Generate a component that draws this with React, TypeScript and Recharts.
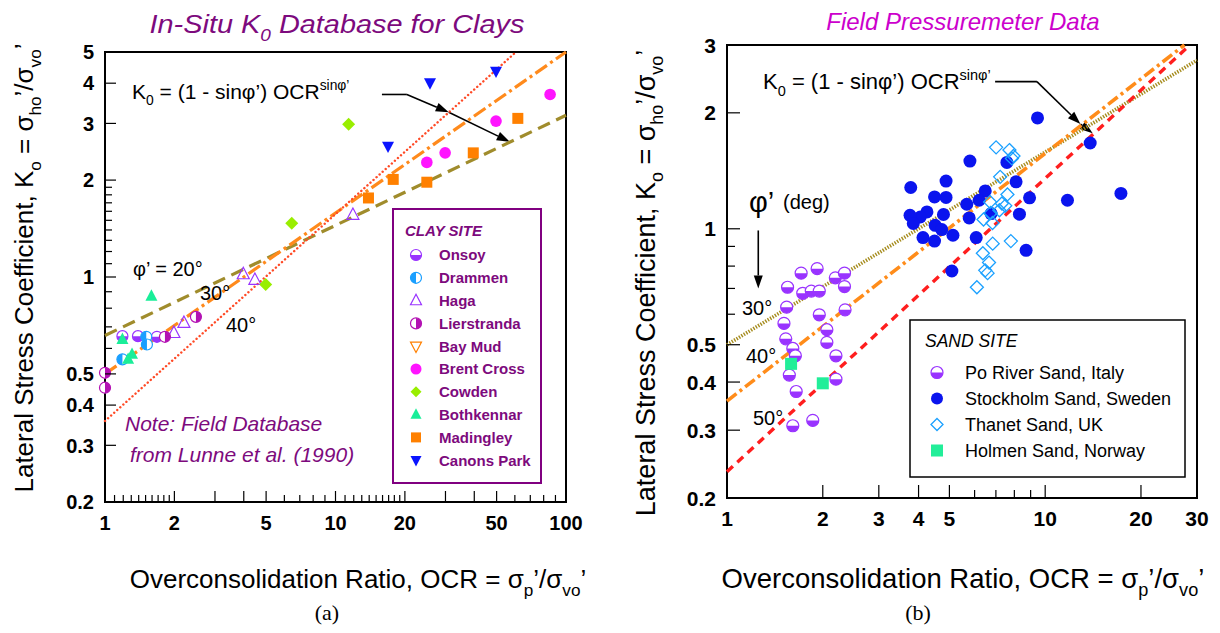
import React from "react";
import { ScatterChart, Scatter, XAxis, YAxis, ReferenceArea, ReferenceLine } from "recharts";

const FONT = "'Liberation Sans', Arial, Helvetica, sans-serif";
const PURPLE = "#7d0a7d";

// ---------- panel (a): clays ----------
const clayXTicks = [1, 1.1, 1.2, 1.3, 1.4, 1.5, 1.6, 1.7, 1.8, 1.9, 2, 3, 4, 5, 6, 7, 8, 9, 10, 11, 12, 13, 14, 15, 16, 17, 18, 19, 20, 30, 40, 50, 60, 70, 80, 90, 100];
const clayXMajor = [1, 2, 3, 4, 5, 10, 20, 30, 40, 50, 100];
const clayXLabels = [1, 2, 5, 10, 20, 50, 100];
const clayYTicks = [0.2, 0.3, 0.4, 0.5, 0.6, 0.7, 0.8, 0.9, 1, 1.1, 1.2, 1.3, 1.4, 1.5, 1.6, 1.7, 1.8, 1.9, 2, 3, 4, 5];
const clayYLabels = [0.2, 0.3, 0.4, 0.5, 1, 2, 3, 4, 5];

const onsoy = [{ x: 1.19, y: 0.655 }, { x: 1.39, y: 0.655 }, { x: 1.68, y: 0.652 }];
const drammen = [{ x: 1.51, y: 0.652 }, { x: 1.52, y: 0.617 }, { x: 1.19, y: 0.555 }];
const haga = [{ x: 11.9, y: 1.56 }, { x: 3.98, y: 1.02 }, { x: 4.47, y: 0.98 }, { x: 2.2, y: 0.72 }, { x: 1.99, y: 0.67 }];
const lierstranda = [{ x: 2.48, y: 0.752 }, { x: 1.82, y: 0.652 }, { x: 1, y: 0.504 }, { x: 1, y: 0.453 }];
const bayMud: { x: number; y: number }[] = [];
const brentCross = [{ x: 85.3, y: 3.69 }, { x: 49.7, y: 3.05 }, { x: 29.9, y: 2.43 }, { x: 24.9, y: 2.27 }];
const cowden = [{ x: 11.4, y: 2.98 }, { x: 6.46, y: 1.47 }, { x: 4.98, y: 0.948 }];
const bothkennar = [{ x: 1.59, y: 0.872 }, { x: 1.19, y: 0.64 }, { x: 1.31, y: 0.575 }, { x: 1.26, y: 0.555 }];
const madingley = [{ x: 61.8, y: 3.11 }, { x: 39.6, y: 2.43 }, { x: 24.9, y: 1.97 }, { x: 17.8, y: 2.01 }, { x: 13.9, y: 1.76 }];
const canonsPark = [{ x: 49.7, y: 4.36 }, { x: 25.7, y: 4.01 }, { x: 16.9, y: 2.55 }];

// K0 = (1 - sin phi') OCR^sin phi' end points
const clayPhi20 = [{ x: 1, y: 0.658 }, { x: 100, y: 3.18 }];
const clayPhi30 = [{ x: 1, y: 0.5 }, { x: 100, y: 5 }];
const clayPhi40 = [{ x: 1, y: 0.357 }, { x: 60.7, y: 5 }];

// ---------- panel (b): sands ----------
const sandXTicks = [1, 2, 3, 4, 5, 6, 7, 8, 9, 10, 20, 30];
const sandXMajor = [1, 2, 3, 4, 5, 10, 20, 30];
const sandXLabels = [1, 2, 3, 4, 5, 10, 20, 30];
const sandYTicks = [0.2, 0.3, 0.4, 0.5, 0.6, 0.7, 0.8, 0.9, 1, 2, 3];
const sandYLabels = [0.2, 0.3, 0.4, 0.5, 1, 2, 3];

const poRiver = [
  { x: 1.92, y: 0.788 }, { x: 1.71, y: 0.767 }, { x: 1.55, y: 0.705 }, { x: 1.73, y: 0.68 },
  { x: 1.84, y: 0.689 }, { x: 1.95, y: 0.689 }, { x: 2.19, y: 0.746 }, { x: 2.34, y: 0.767 },
  { x: 2.34, y: 0.708 }, { x: 1.54, y: 0.626 }, { x: 1.95, y: 0.598 }, { x: 2.35, y: 0.616 },
  { x: 1.51, y: 0.568 }, { x: 2.06, y: 0.547 }, { x: 1.53, y: 0.518 }, { x: 1.61, y: 0.489 },
  { x: 1.64, y: 0.468 }, { x: 2.06, y: 0.507 }, { x: 2.2, y: 0.468 }, { x: 1.57, y: 0.417 },
  { x: 2.2, y: 0.407 }, { x: 1.65, y: 0.378 }, { x: 1.86, y: 0.318 }, { x: 1.61, y: 0.308 },
];
const stockholm = [
  { x: 9.46, y: 1.94 }, { x: 13.85, y: 1.67 }, { x: 17.3, y: 1.235 }, { x: 11.75, y: 1.186 },
  { x: 8.93, y: 1.203 }, { x: 8.3, y: 1.091 }, { x: 8.71, y: 0.879 }, { x: 8.1, y: 1.324 },
  { x: 7.58, y: 1.487 }, { x: 6.48, y: 1.254 }, { x: 6.2, y: 1.186 }, { x: 5.67, y: 1.158 },
  { x: 5.77, y: 1.067 }, { x: 6.07, y: 0.949 }, { x: 5.8, y: 1.499 }, { x: 4.88, y: 1.33 },
  { x: 4.88, y: 1.206 }, { x: 4.49, y: 1.21 }, { x: 3.78, y: 1.28 }, { x: 4.25, y: 1.106 },
  { x: 4.05, y: 1.073 }, { x: 3.76, y: 1.084 }, { x: 3.85, y: 1.032 }, { x: 4.51, y: 1.021 },
  { x: 4.73, y: 0.995 }, { x: 4.79, y: 1.089 }, { x: 4.13, y: 0.949 }, { x: 4.49, y: 0.929 },
  { x: 5.13, y: 0.962 }, { x: 5.09, y: 0.777 }, { x: 6.76, y: 1.095 },
];
const thanet = [
  { x: 7.01, y: 1.627 }, { x: 7.72, y: 1.601 }, { x: 7.95, y: 1.545 }, { x: 7.86, y: 1.523 },
  { x: 7.22, y: 1.364 }, { x: 7.61, y: 1.228 }, { x: 6.71, y: 1.174 }, { x: 7.31, y: 1.163 },
  { x: 7.49, y: 1.147 }, { x: 7.18, y: 1.117 }, { x: 6.74, y: 1.099 }, { x: 6.4, y: 1.057 },
  { x: 6.83, y: 1.035 }, { x: 6.84, y: 0.915 }, { x: 7.8, y: 0.929 }, { x: 6.37, y: 0.864 },
  { x: 6.66, y: 0.817 }, { x: 6.48, y: 0.78 }, { x: 6.59, y: 0.767 }, { x: 6.1, y: 0.705 },
];
const holmen = [{ x: 1.59, y: 0.446 }, { x: 2.0, y: 0.397 }];

const sandPhi30 = [{ x: 1, y: 0.5 }, { x: 30, y: 2.74 }];
const sandPhi40 = [{ x: 1, y: 0.357 }, { x: 27.4, y: 3 }];
const sandPhi50 = [{ x: 1, y: 0.234 }, { x: 28.5, y: 3 }];

// ---------- drawing helpers ----------
type Kind = "halfBottom" | "halfLeft" | "halfRight" | "triUp" | "triDown" | "openTriUp" | "openTriDown" | "circle" | "diamond" | "openDiamond" | "square";

function Marker({ kind, color, cx, cy, r }: { kind: Kind; color: string; cx: number; cy: number; r: number }) {
  switch (kind) {
    case "halfBottom":
    case "halfLeft":
    case "halfRight": {
      const d =
        kind === "halfBottom"
          ? `M${cx - r},${cy} A${r},${r} 0 0 0 ${cx + r},${cy} Z`
          : kind === "halfLeft"
          ? `M${cx},${cy - r} A${r},${r} 0 0 0 ${cx},${cy + r} Z`
          : `M${cx},${cy - r} A${r},${r} 0 0 1 ${cx},${cy + r} Z`;
      return (
        <g>
          <circle cx={cx} cy={cy} r={r} fill="#fff" stroke={color} strokeWidth={1.2} />
          <path d={d} fill={color} />
        </g>
      );
    }
    case "triUp":
    case "openTriUp": {
      const pts = `${cx},${cy - r * 1.15} ${cx - r},${cy + r * 0.75} ${cx + r},${cy + r * 0.75}`;
      return kind === "triUp" ? <polygon points={pts} fill={color} /> : <polygon points={pts} fill="none" stroke={color} strokeWidth={1.2} />;
    }
    case "triDown":
    case "openTriDown": {
      const pts = `${cx},${cy + r * 1.15} ${cx - r},${cy - r * 0.75} ${cx + r},${cy - r * 0.75}`;
      return kind === "triDown" ? <polygon points={pts} fill={color} /> : <polygon points={pts} fill="none" stroke={color} strokeWidth={1.2} />;
    }
    case "circle":
      return <circle cx={cx} cy={cy} r={r} fill={color} />;
    case "diamond":
    case "openDiamond": {
      const pts = `${cx},${cy - r} ${cx + r},${cy} ${cx},${cy + r} ${cx - r},${cy}`;
      return kind === "diamond" ? <polygon points={pts} fill={color} /> : <polygon points={pts} fill="none" stroke={color} strokeWidth={1.3} />;
    }
    case "square":
      return <rect x={cx - r} y={cy - r} width={2 * r} height={2 * r} fill={color} />;
  }
}

const shapeOf = (kind: Kind, color: string, r: number) => (p: any) => <Marker kind={kind} color={color} cx={p.cx} cy={p.cy} r={r} />;
const noShape = () => <g />;

function Rich({ parts, fs }: { parts: Array<[string, "n" | "sub" | "sup"]>; fs: number }) {
  let shift = 0;
  return (
    <>
      {parts.map(([t, k], i) => {
        const target = k === "sub" ? fs * 0.3 : k === "sup" ? -fs * 0.42 : 0;
        const dy = target - shift;
        shift = target;
        return (
          <tspan key={i} dy={dy} fontSize={k === "n" ? fs : fs * 0.66}>
            {t}
          </tspan>
        );
      })}
    </>
  );
}

const xTick = (major: number[], labels: number[], fs: number, long: number, short: number) => (p: any) => {
  const v = p.payload.value;
  return (
    <g>
      <line x1={p.x} y1={p.y} x2={p.x} y2={p.y - (major.includes(v) ? long : short)} stroke="#000" strokeWidth={1.2} />
      {labels.includes(v) && (
        <text x={p.x} y={p.y + 28} textAnchor="middle" fontSize={fs} fontFamily={FONT} fontWeight="bold" fill="#000">
          {v}
        </text>
      )}
    </g>
  );
};

const yTick = (major: number[], labels: number[], fs: number, long: number, short: number) => (p: any) => {
  const v = p.payload.value;
  return (
    <g>
      <line x1={p.x} y1={p.y} x2={p.x + (major.includes(v) ? long : short)} y2={p.y} stroke="#000" strokeWidth={1.2} />
      {labels.includes(v) && (
        <text x={p.x - 11} y={p.y} dy="0.36em" textAnchor="end" fontSize={fs} fontFamily={FONT} fontWeight="bold" fill="#000">
          {v}
        </text>
      )}
    </g>
  );
};

const arrow = (head: boolean) => (p: any) => {
  const { x1, y1, x2, y2 } = p;
  const a = Math.atan2(y2 - y1, x2 - x1);
  const L = 13;
  const W = 4.5;
  const bx = x2 - L * Math.cos(a);
  const by = y2 - L * Math.sin(a);
  const px = -Math.sin(a) * W;
  const py = Math.cos(a) * W;
  return (
    <g>
      <line x1={x1} y1={y1} x2={head ? bx : x2} y2={head ? by : y2} stroke="#000" strokeWidth={1.6} />
      {head && <polygon points={`${x2},${y2} ${bx + px},${by + py} ${bx - px},${by - py}`} fill="#000" />}
    </g>
  );
};

const clayLegend: Array<[string, Kind, string]> = [
  ["Onsoy", "halfBottom", "#9933ff"],
  ["Drammen", "halfLeft", "#1a9fff"],
  ["Haga", "openTriUp", "#9933ff"],
  ["Lierstranda", "halfRight", "#b312b3"],
  ["Bay Mud", "openTriDown", "#ff8000"],
  ["Brent Cross", "circle", "#ff14ff"],
  ["Cowden", "diamond", "#99ee00"],
  ["Bothkennar", "triUp", "#1aee99"],
  ["Madingley", "square", "#ff8000"],
  ["Canons Park", "triDown", "#0a14ff"],
];
const sandLegend: Array<[string, Kind, string]> = [
  ["Po River Sand, Italy", "halfBottom", "#9933ff"],
  ["Stockholm Sand, Sweden", "circle", "#0a14ee"],
  ["Thanet Sand, UK", "openDiamond", "#1aa0ff"],
  ["Holmen Sand, Norway", "square", "#22ee99"],
];

const yTitle: Array<[string, "n" | "sub" | "sup"]> = [["Lateral Stress Coefficient, K", "n"], ["o", "sub"], [" = σ", "n"], ["ho", "sub"], ["’/σ", "n"], ["vo", "sub"], ["’", "n"]];
const xTitle: Array<[string, "n" | "sub" | "sup"]> = [["Overconsolidation Ratio, OCR = σ", "n"], ["p", "sub"], ["’/σ", "n"], ["vo", "sub"], ["’", "n"]];
const k0Formula: Array<[string, "n" | "sub" | "sup"]> = [["K", "n"], ["0", "sub"], [" = (1 - sinφ’) OCR", "n"], ["sinφ’", "sup"]];

export default function App() {
  return (
    <div style={{ position: "absolute", left: 0, top: 0, width: 1220, height: 633, background: "#fff", fontFamily: FONT }}>
      {/* (a) clays */}
      <div style={{ position: "absolute", left: 0, top: 0 }}>
        <ScatterChart width={600} height={633} margin={{ top: 52, right: 34, bottom: 91, left: 45 }}>
          <XAxis dataKey="x" type="number" scale="log" domain={[1, 100]} ticks={clayXTicks} interval={0} height={40}
            axisLine={false} tickLine={false} tickSize={0} tickMargin={0} tick={xTick(clayXMajor, clayXLabels, 20, 11, 7)} />
          <YAxis dataKey="y" type="number" scale="log" domain={[0.2, 5]} ticks={clayYTicks} interval={0} width={60}
            axisLine={false} tickLine={false} tickSize={0} tickMargin={0} tick={yTick(clayYLabels, clayYLabels, 20, 11, 7)} />
          <Scatter data={clayPhi20} shape={noShape} line={{ stroke: "#a08c2c", strokeWidth: 3.2, strokeDasharray: "13 7" }} isAnimationActive={false} />
          <Scatter data={clayPhi30} shape={noShape} line={{ stroke: "#ff8a1c", strokeWidth: 3.2, strokeDasharray: "14 4 3 4" }} isAnimationActive={false} />
          <Scatter data={clayPhi40} shape={noShape} line={{ stroke: "#ff4a26", strokeWidth: 2.4, strokeDasharray: "0.1 4", strokeLinecap: "round" }} isAnimationActive={false} />
          <Scatter data={onsoy} shape={shapeOf("halfBottom", "#9933ff", 5.5)} isAnimationActive={false} />
          <Scatter data={drammen} shape={shapeOf("halfLeft", "#1a9fff", 5.5)} isAnimationActive={false} />
          <Scatter data={haga} shape={shapeOf("openTriUp", "#9933ff", 6)} isAnimationActive={false} />
          <Scatter data={lierstranda} shape={shapeOf("halfRight", "#b312b3", 5.5)} isAnimationActive={false} />
          <Scatter data={bayMud} shape={shapeOf("openTriDown", "#ff8000", 6)} isAnimationActive={false} />
          <Scatter data={brentCross} shape={shapeOf("circle", "#ff14ff", 5.8)} isAnimationActive={false} />
          <Scatter data={cowden} shape={shapeOf("diamond", "#99ee00", 6.5)} isAnimationActive={false} />
          <Scatter data={bothkennar} shape={shapeOf("triUp", "#1aee99", 6)} isAnimationActive={false} />
          <Scatter data={madingley} shape={shapeOf("square", "#ff8000", 5.5)} isAnimationActive={false} />
          <Scatter data={canonsPark} shape={shapeOf("triDown", "#0a14ff", 6)} isAnimationActive={false} />
          <ReferenceLine segment={[{ x: 15.9, y: 3.69 }, { x: 20.4, y: 3.69 }]} shape={arrow(false)} />
          <ReferenceLine segment={[{ x: 20.4, y: 3.69 }, { x: 31, y: 3.25 }]} shape={arrow(true)} />
          <ReferenceLine segment={[{ x: 31, y: 3.25 }, { x: 57, y: 2.63 }]} shape={arrow(true)} />
          <ReferenceArea x1={1} x2={100} y1={0.2} y2={5} fill="none" stroke="#000" strokeWidth={2} />
        </ScatterChart>
      </div>

      {/* (b) sands */}
      <div style={{ position: "absolute", left: 620, top: 0 }}>
        <ScatterChart width={600} height={633} margin={{ top: 45, right: 23, bottom: 95, left: 47 }}>
          <XAxis dataKey="x" type="number" scale="log" domain={[1, 30]} ticks={sandXTicks} interval={0} height={40}
            axisLine={false} tickLine={false} tickSize={0} tickMargin={0} tick={xTick(sandXMajor, sandXLabels, 21, 13, 8)} />
          <YAxis dataKey="y" type="number" scale="log" domain={[0.2, 3]} ticks={sandYTicks} interval={0} width={60}
            axisLine={false} tickLine={false} tickSize={0} tickMargin={0} tick={yTick(sandYLabels, sandYLabels, 21, 13, 8)} />
          <Scatter data={sandPhi30} shape={noShape} line={{ stroke: "#a68c1e", strokeWidth: 3.6, strokeDasharray: "1.4 1.4" }} isAnimationActive={false} />
          <Scatter data={sandPhi40} shape={noShape} line={{ stroke: "#ff8c1a", strokeWidth: 3.6, strokeDasharray: "12 4 3 4" }} isAnimationActive={false} />
          <Scatter data={sandPhi50} shape={noShape} line={{ stroke: "#ff1e1e", strokeWidth: 3.4, strokeDasharray: "8 6" }} isAnimationActive={false} />
          <Scatter data={poRiver} shape={shapeOf("halfBottom", "#9933ff", 6)} isAnimationActive={false} />
          <Scatter data={stockholm} shape={shapeOf("circle", "#0a14ee", 6.5)} isAnimationActive={false} />
          <Scatter data={thanet} shape={shapeOf("openDiamond", "#1aa0ff", 6.5)} isAnimationActive={false} />
          <Scatter data={holmen} shape={shapeOf("square", "#22ee99", 6)} isAnimationActive={false} />
          <ReferenceLine segment={[{ x: 6.96, y: 2.41 }, { x: 9.42, y: 2.41 }]} shape={arrow(false)} />
          <ReferenceLine segment={[{ x: 9.42, y: 2.41 }, { x: 12.9, y: 1.87 }]} shape={arrow(true)} />
          <ReferenceLine segment={[{ x: 12.9, y: 1.87 }, { x: 14.1, y: 1.77 }]} shape={arrow(true)} />
          <ReferenceLine segment={[{ x: 1.254, y: 0.99 }, { x: 1.254, y: 0.7 }]} shape={arrow(true)} />
          <ReferenceArea x1={1} x2={30} y1={0.2} y2={3} fill="none" stroke="#000" strokeWidth={2} />
        </ScatterChart>
      </div>

      {/* titles, annotations and legends */}
      <svg width={1220} height={633} style={{ position: "absolute", left: 0, top: 0, pointerEvents: "none" }} fontFamily={FONT}>
        <text x={337} y={33} textAnchor="middle" fontStyle="italic" fill={PURPLE} textLength={375} lengthAdjust="spacingAndGlyphs">
          <Rich fs={26} parts={[["In-Situ K", "n"], ["0", "sub"], [" Database for Clays", "n"]]} />
        </text>
        <text x={963} y={30} textAnchor="middle" fontStyle="italic" fill="#cc00cc" fontSize={24}>
          Field Pressuremeter Data
        </text>

        {/* y titles */}
        <text transform="translate(33,268) rotate(-90)" textAnchor="middle" fill="#000">
          <Rich fs={26} parts={yTitle} />
        </text>
        <text transform="translate(655,283) rotate(-90)" textAnchor="middle" fill="#000">
          <Rich fs={27} parts={yTitle} />
        </text>

        {/* x titles */}
        <text x={358} y={588} textAnchor="middle" fill="#000">
          <Rich fs={26} parts={xTitle} />
        </text>
        <text x={963} y={588} textAnchor="middle" fill="#000">
          <Rich fs={27.5} parts={xTitle} />
        </text>
        <text x={327} y={620} textAnchor="middle" fontFamily="'Liberation Serif', serif" fontSize={22} fill="#000">(a)</text>
        <text x={918} y={620} textAnchor="middle" fontFamily="'Liberation Serif', serif" fontSize={22} fill="#000">(b)</text>

        {/* panel (a) annotations */}
        <text x={132} y={99} fill="#000">
          <Rich fs={21} parts={k0Formula} />
        </text>
        <text x={133} y={276} fontSize={20} fill="#000">φ’ = 20°</text>
        <text x={200} y={300} fontSize={20} fill="#000">30°</text>
        <text x={226} y={332} fontSize={20} fill="#000">40°</text>
        <text x={125} y={431} fontSize={21} fontStyle="italic" fill={PURPLE}>Note: Field Database</text>
        <text x={130} y={462} fontSize={21} fontStyle="italic" fill={PURPLE}>from Lunne et al. (1990)</text>

        <rect x={393} y={209} width={148} height={274} fill="#fff" stroke="#800080" strokeWidth={2} />
        <text x={405} y={236} fontSize={15} fontStyle="italic" fontWeight="bold" fill={PURPLE}>CLAY SITE</text>
        {clayLegend.map(([name, kind, color], i) => (
          <g key={name}>
            <Marker kind={kind} color={color} cx={416} cy={255 + i * 22.8} r={kind === "square" ? 5 : 5.5} />
            <text x={439} y={255 + i * 22.8} dy="0.36em" fontSize={15} fontWeight="bold" fill={PURPLE}>{name}</text>
          </g>
        ))}

        {/* panel (b) annotations */}
        <text x={763} y={89} fill="#000">
          <Rich fs={22} parts={k0Formula} />
        </text>
        <text x={749} y={212} fontSize={29} fill="#000">φ’</text>
        <text x={783} y={209} fontSize={20} fill="#000">(deg)</text>
        <text x={742} y={315} fontSize={20} fill="#000">30°</text>
        <text x={746} y={363} fontSize={20} fill="#000">40°</text>
        <text x={753} y={425} fontSize={20} fill="#000">50°</text>

        <rect x={910} y={320} width={275} height={157} fill="#fff" stroke="#000" strokeWidth={1.5} />
        <text x={925} y={347} fontSize={17.5} fontStyle="italic" fill="#000">SAND SITE</text>
        {sandLegend.map(([name, kind, color], i) => (
          <g key={name}>
            <Marker kind={kind} color={color} cx={937} cy={372.5 + i * 26} r={6} />
            <text x={965} y={372.5 + i * 26} dy="0.36em" fontSize={18} fill="#000">{name}</text>
          </g>
        ))}
      </svg>
    </div>
  );
}
